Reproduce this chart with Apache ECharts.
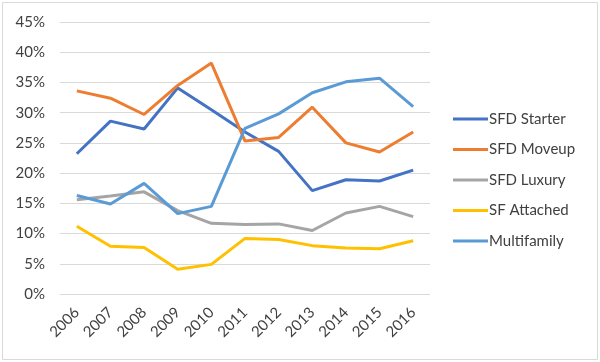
<!DOCTYPE html>
<html><head><meta charset="utf-8">
<script src="https://cdn.jsdelivr.net/npm/echarts@6/dist/echarts.min.js"></script>
<style>html,body{margin:0;padding:0;background:#fff}#c{width:600px;height:362px}</style>
</head><body><div id="c"></div>
<script>
var years = ['2006','2007','2008','2009','2010','2011','2012','2013','2014','2015','2016'];
var sfdStarter = [23.2, 28.6, 27.3, 34.1, 30.5, 26.8, 23.6, 17.1, 18.9, 18.7, 20.5];
var sfdMoveup = [33.6, 32.4, 29.7, 34.5, 38.2, 25.3, 25.9, 30.9, 25.0, 23.5, 26.8];
var sfdLuxury = [15.6, 16.2, 16.9, 13.8, 11.7, 11.5, 11.6, 10.5, 13.4, 14.5, 12.8];
var sfAttached = [11.2, 7.9, 7.7, 4.1, 4.9, 9.2, 9.0, 8.0, 7.6, 7.5, 8.8];
var multifamily = [16.3, 14.9, 18.3, 13.3, 14.5, 27.4, 29.8, 33.3, 35.1, 35.7, 31.0];
var seriesNames = ['SFD Starter','SFD Moveup','SFD Luxury','SF Attached','Multifamily'];
var colors = ['#4472C4','#ED7D31','#A5A5A5','#FFC000','#5B9BD5'];

var chart = echarts.init(document.getElementById('c'), null, {renderer:'canvas'});
var font = 'Lato, "Open Sans", sans-serif';
var dataList = [sfdStarter, sfdMoveup, sfdLuxury, sfAttached, multifamily];
chart.setOption({
  animation: false,
  color: colors,
  textStyle: {fontFamily: font},
  graphic: [{type:'rect', shape:{x:2.5,y:2.5,width:595,height:357}, style:{fill:'none', stroke:'#d9d9d9', lineWidth:1}}],
  grid: {left:60, right:170, top:22, bottom:68},
  legend: {
    orient:'vertical', left:448, top:106.5, itemWidth:35, itemHeight:3, itemGap:15.5,
    icon:'rect',
    textStyle:{fontSize:15, color:'#404040', fontFamily:font, padding:[0,0,0,-4]},
    data: seriesNames
  },
  xAxis: {
    type:'category', data: years, boundaryGap:true,
    axisLine:{show:false}, axisTick:{show:false},
    axisLabel:{rotate:45, fontSize:15, color:'#404040', margin:16, interval:0, fontFamily:font}
  },
  yAxis: {
    type:'value', min:0, max:45, interval:5,
    axisLabel:{formatter:'{value}%', fontSize:15, color:'#404040', margin:15, fontFamily:font},
    splitLine:{lineStyle:{color:'#d9d9d9', width:1}},
    axisLine:{show:false}, axisTick:{show:false}
  },
  series: seriesNames.map(function(n,i){
    return {name:n, type:'line', data:dataList[i], symbol:'none', lineStyle:{width:3, color:colors[i]}, itemStyle:{color:colors[i]}};
  })
});
</script></body></html>
